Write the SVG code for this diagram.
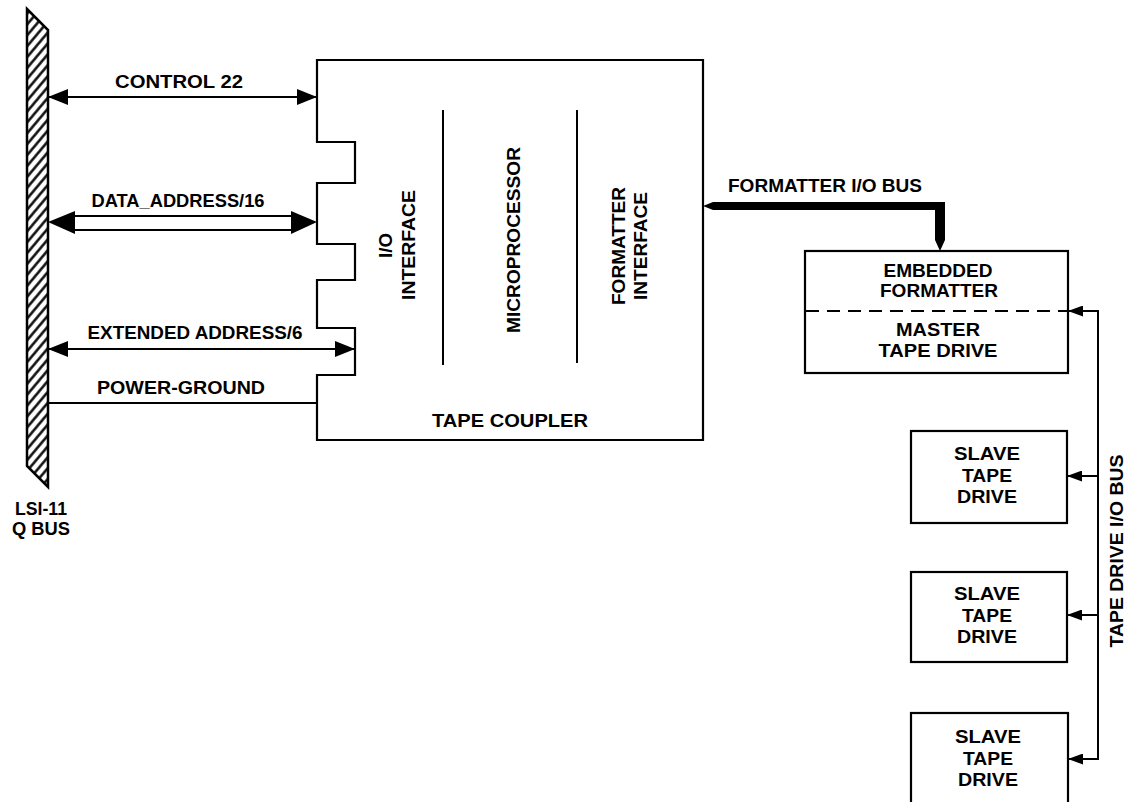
<svg xmlns="http://www.w3.org/2000/svg" width="1127" height="802" viewBox="0 0 1127 802">
<style>
  text { font-family: "Liberation Sans", Arial, sans-serif; font-weight: bold; font-size: 18px; fill: #000; }
  .c { text-anchor: middle; }
  .ln { fill: none; stroke: #000; stroke-width: 2; }
  .box { fill: #fff; stroke: #000; stroke-width: 2.2; }
  .head { fill: #000; stroke: none; }
</style>
<defs>
  <pattern id="hatch" width="7" height="7" patternUnits="userSpaceOnUse" patternTransform="rotate(40)">
    <rect width="7" height="7" fill="#fff"/>
    <line x1="1.5" y1="0" x2="1.5" y2="7" stroke="#000" stroke-width="2.4"/>
  </pattern>
  <marker id="arr" viewBox="0 0 20 16" refX="20" refY="8" markerWidth="20" markerHeight="16" markerUnits="userSpaceOnUse" orient="auto-start-reverse">
    <path d="M0,0 L20,8 L0,16 Z" fill="#000"/>
  </marker>
  <marker id="sm" viewBox="0 0 15 11" refX="15" refY="5.5" markerWidth="15" markerHeight="11" markerUnits="userSpaceOnUse" orient="auto">
    <path d="M0,0 L15,5.5 L0,11 Z" fill="#000"/>
  </marker>
</defs>

<g id="qbus">
  <polygon points="27,9 48,30 48,487 27,466" fill="url(#hatch)" stroke="#000" stroke-width="2.5"/>
  <text class="c" x="41" y="515" textLength="52" lengthAdjust="spacingAndGlyphs">LSI-11</text>
  <text class="c" x="41" y="535" textLength="58" lengthAdjust="spacingAndGlyphs">Q BUS</text>
</g>

<g id="tape-coupler">
  <path class="box" d="M317,60 H703 V440 H317 V375 H355 V328 H317 V280 H355 V244 H317 V183 H355 V142 H317 Z"/>
  <line class="ln" x1="443" y1="110" x2="443" y2="365"/>
  <line class="ln" x1="577" y1="110" x2="577" y2="363"/>
  <text class="c" transform="translate(392,245.5) rotate(-90)" textLength="25" lengthAdjust="spacingAndGlyphs">I/O</text>
  <text class="c" transform="translate(415,245) rotate(-90)" textLength="110" lengthAdjust="spacingAndGlyphs">INTERFACE</text>
  <text class="c" transform="translate(520,240) rotate(-90)" textLength="186" lengthAdjust="spacingAndGlyphs">MICROPROCESSOR</text>
  <text class="c" transform="translate(625,246) rotate(-90)" textLength="118" lengthAdjust="spacingAndGlyphs">FORMATTER</text>
  <text class="c" transform="translate(647,246) rotate(-90)" textLength="108" lengthAdjust="spacingAndGlyphs">INTERFACE</text>
  <text class="c" x="510" y="427" textLength="156" lengthAdjust="spacingAndGlyphs">TAPE COUPLER</text>
</g>

<g id="embedded-formatter">
  <rect class="box" x="805" y="251" width="263" height="122"/>
  <line x1="806" y1="311" x2="1067" y2="311" stroke="#000" stroke-width="2" stroke-dasharray="13,8"/>
  <text class="c" x="938" y="277" textLength="109" lengthAdjust="spacingAndGlyphs">EMBEDDED</text>
  <text class="c" x="939" y="297" textLength="118" lengthAdjust="spacingAndGlyphs">FORMATTER</text>
  <text class="c" x="938" y="336" textLength="84" lengthAdjust="spacingAndGlyphs">MASTER</text>
  <text class="c" x="938" y="357" textLength="119" lengthAdjust="spacingAndGlyphs">TAPE DRIVE</text>
</g>

<g id="slave-1">
  <rect class="box" x="911" y="431" width="156" height="92"/>
  <text class="c" x="987" y="460" textLength="66" lengthAdjust="spacingAndGlyphs">SLAVE</text>
  <text class="c" x="987" y="482" textLength="50" lengthAdjust="spacingAndGlyphs">TAPE</text>
  <text class="c" x="987" y="503" textLength="60" lengthAdjust="spacingAndGlyphs">DRIVE</text>
</g>
<g id="slave-2">
  <rect class="box" x="911" y="572" width="156" height="90"/>
  <text class="c" x="987" y="600" textLength="66" lengthAdjust="spacingAndGlyphs">SLAVE</text>
  <text class="c" x="987" y="622" textLength="50" lengthAdjust="spacingAndGlyphs">TAPE</text>
  <text class="c" x="987" y="643" textLength="60" lengthAdjust="spacingAndGlyphs">DRIVE</text>
</g>
<g id="slave-3">
  <rect class="box" x="911" y="713" width="157" height="100"/>
  <text class="c" x="988" y="743" textLength="66" lengthAdjust="spacingAndGlyphs">SLAVE</text>
  <text class="c" x="988" y="765" textLength="50" lengthAdjust="spacingAndGlyphs">TAPE</text>
  <text class="c" x="988" y="786" textLength="60" lengthAdjust="spacingAndGlyphs">DRIVE</text>
</g>

<g id="connectors">
  <line class="ln" x1="48" y1="97" x2="317" y2="97" marker-start="url(#arr)" marker-end="url(#arr)"/>
  <text class="c" x="179" y="88" textLength="128" lengthAdjust="spacingAndGlyphs">CONTROL 22</text>
  <line class="ln" x1="74" y1="216" x2="292" y2="216"/>
  <line class="ln" x1="74" y1="230" x2="292" y2="230"/>
  <path class="head" d="M48,222 L75,211 L75,234 Z"/>
  <path class="head" d="M317,222 L291,211 L291,234 Z"/>
  <text class="c" x="178" y="207" textLength="173" lengthAdjust="spacingAndGlyphs">DATA_ADDRESS/16</text>
  <line class="ln" x1="48" y1="349" x2="355" y2="349" marker-start="url(#arr)" marker-end="url(#arr)"/>
  <text class="c" x="195" y="339" textLength="215" lengthAdjust="spacingAndGlyphs">EXTENDED ADDRESS/6</text>
  <line class="ln" x1="48" y1="403" x2="317" y2="403"/>
  <text class="c" x="181" y="394" textLength="168" lengthAdjust="spacingAndGlyphs">POWER-GROUND</text>
  <path class="head" d="M703,206 L713,202 L945,202 L945,240 L940,251 L935,240 L935,210 L713,210 Z"/>
  <text class="c" x="825" y="192" textLength="194" lengthAdjust="spacingAndGlyphs">FORMATTER I/O BUS</text>
  <path class="ln" d="M1083,311 H1098 V759 H1083"/>
  <line class="ln" x1="1098" y1="311" x2="1068" y2="311" marker-end="url(#sm)"/>
  <line class="ln" x1="1098" y1="476" x2="1067" y2="476" marker-end="url(#sm)"/>
  <line class="ln" x1="1098" y1="615" x2="1067" y2="615" marker-end="url(#sm)"/>
  <line class="ln" x1="1098" y1="759" x2="1068" y2="759" marker-end="url(#sm)"/>
  <text class="c" transform="translate(1123,551) rotate(-90)" textLength="193" lengthAdjust="spacingAndGlyphs">TAPE DRIVE I/O BUS</text>
</g>
</svg>
